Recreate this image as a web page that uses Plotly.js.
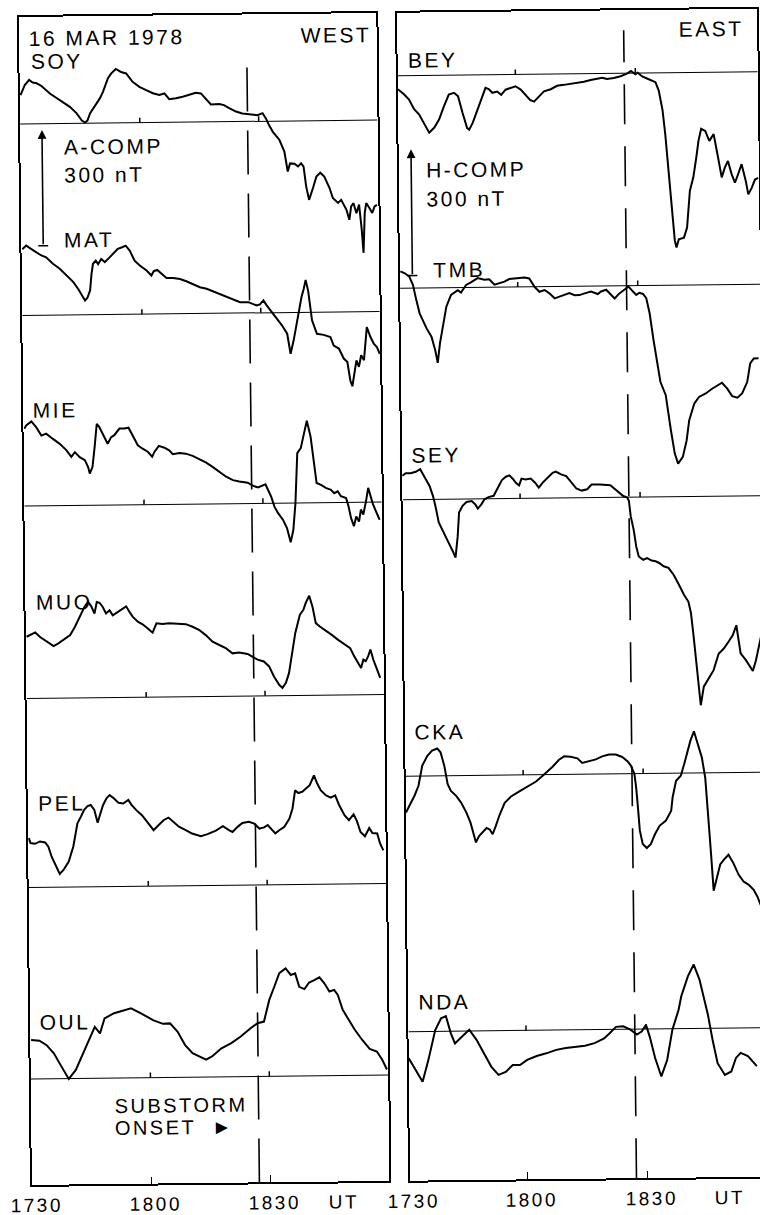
<!DOCTYPE html>
<html>
<head>
<meta charset="utf-8">
<script src="https://cdn.plot.ly/plotly-3.0.1.min.js"></script>
<style>
  html, body { margin: 0; padding: 0; background: #fff; overflow: hidden; width: 760px; height: 1215px; }
  /* the scanned sheet sits slightly askew on the page */
  #chart { width: 780px; height: 1215px; transform: rotate(-0.64deg); transform-origin: 380px 607.5px; }
  /* wide lettering; set on every svg text so Plotly's text measuring sees it too */
  text { letter-spacing: 2.5px; }
</style>
</head>
<body>
<div id="chart"></div>
<script>
// Magnetograms of 16 March 1978, 17:30-19:00 UT.
// Time in minutes after 17:30 UT, field deviation from each station's base level in nT.

// ---- WEST chain (A-component) ----
const SOY_T = [0,1.1,2.2,3.1,4.1,5.3,7.4,9.9,12.4,14.1,15.4,16.2,16.8,17.5,18.7,20,20.8,22.1,22.9,24.1,25.4,26.7,28.3,30,31.7,33.4,35,36.3,37.5,39.2,40.9,42.6,44.2,45.5,46.7,48,50.1,51.3,52.6,54.3,55.9,58.5,59.7,61,61.8,62.6,63.5,65.2,66.4,67.2,67.8,68.9,69.8,70.6,71.2,71.8,72.5,73.5,74.4,75.4,76.4,77.7,78.5,79.8,80.6,81.9,82.6,83.1,83.7,84.4,85.1,85.7,86.1,86.5,86.9,87.7,88.4,89,89.6];
const SOY_NT = [75,101,114,107,105,98,78,61,43,26,7,2,7,26,43,64,81,116,128,140,132,128,106,93,84,76,71,75,60,62,66,72,76,74,61,45,46,43,35,26,21,17,16,21,8,-10,-27,-49,-79,-131,-110,-111,-118,-110,-119,-170,-205,-175,-145,-135,-145,-175,-201,-214,-206,-232,-258,-223,-215,-241,-219,-284,-344,-241,-215,-228,-241,-224,-220];

const MAT_T = [0,1,2.3,3.5,4.8,6,7.7,9.4,11.1,12.8,14,14.9,15.7,16.3,17,17.4,17.8,18.5,19.1,19.9,20.8,22,23.3,24.1,25.2,26.1,27.1,28.3,29.6,31.3,32.5,33.1,34,35,36.3,38,39.7,41.3,43,44.7,46.4,48.1,49.8,51.4,53.1,54.8,56.9,59,59.8,60.7,61.5,62.8,64,65.3,66.6,67.4,68.2,69.1,69.7,70.3,70.9,71.4,72,72.9,74.1,75.8,77.5,78.3,79.6,80.8,81.7,82.4,82.9,83.4,84,84.6,85.2,85.9,86.7,87.6,88.4,89.2,89.9];
const MAT_NT = [172,181,172,163,155,150,133,120,102,85,67,50,37,44,63,106,132,140,131,144,136,148,161,170,174,178,165,139,126,113,100,111,114,104,93,93,90,84,77,68,64,57,50,42,35,28,28,19,22,32,19,1,-16,-33,-55,-107,-73,-21,13,39,61,84,56,-21,-56,-59,-65,-87,-95,-121,-130,-178,-193,-161,-126,-143,-113,-126,-40,-66,-83,-92,-110];

const MIE_T = [0,0.5,1.8,3,4.3,5.5,7.2,8.9,10.6,11.8,12.7,13.9,15.2,16,16.4,17.1,17.7,18.3,18.9,19.8,20.4,21,21.9,22.7,24,25.2,26.3,27.3,28.6,29.8,31.1,32.2,32.8,33.9,35.3,36.5,37.4,39.1,40.7,42.4,44.1,45.8,47.4,49.1,50.8,52.5,54.1,56.2,57.5,58.8,60,60.7,61.3,62.1,62.9,63.8,65,66,66.9,67.6,68.2,68.8,69.7,70.5,71.3,72.2,73,73.6,74.7,75.9,77.2,78,78.9,79.7,81,81.6,82.2,82.9,83.5,84.2,84.7,85.3,86,86.6,87.3,87.8,88.5,89.4];
const MIE_NT = [200,209,219,204,182,187,173,160,143,126,138,125,117,99,82,99,151,211,203,185,172,159,176,181,198,198,200,180,154,145,137,124,137,152,147,140,130,133,131,125,117,107,96,83,70,61,57,54,46,41,45,49,35,17,-9,-26,-43,-65,-102,-70,-1,129,142,176,213,172,111,51,46,38,33,24,29,16,11,-11,-41,-62,-37,-50,-19,-32,2,37,11,-7,-24,-46];

const MUO_T = [0,0.9,2.2,3.4,5.1,6.8,8,9.7,11,12.2,13.5,14.7,15.6,16.4,17.2,17.8,18.5,19.3,20.1,21,21.8,23.1,24.3,25.2,26,26.8,28.1,29.3,30.6,31.8,32.8,34.3,36,38.5,40.2,41.9,43.5,45.2,46.9,48.6,50.2,51.9,53.6,55.7,56.9,58.2,59.8,61.1,62.3,63.6,64.4,65.3,66.1,66.9,67.8,69,69.9,70.5,71.4,72.2,73,74,75.3,77,78.6,80.3,81.6,82.6,83.6,84.3,84.9,85.5,86.1,86.7,87.4,88.2,89.1];
const MUO_NT = [160,164,171,159,146,135,142,154,163,184,210,236,249,237,218,248,246,235,218,226,213,222,228,236,222,209,196,189,178,167,191,189,191,190,188,181,173,159,142,133,125,111,113,109,102,94,89,76,50,28,20,33,58,110,162,209,222,239,258,230,187,178,169,156,143,130,121,100,82,69,91,87,99,117,91,69,43];

const PEL_T = [0,0.4,1.5,2.8,4.1,4.9,5.7,6.8,7.7,8.7,10,11.2,12.3,13.2,14,14.9,15.7,16.6,17.4,18,18.8,19.7,20.5,21.6,22.7,23.9,25.2,26,27.3,28.6,29.8,31.5,32.8,34.1,35.3,36.6,37.9,39.6,41.2,43.4,45.1,47.2,49,50.5,51.4,52.7,53.9,55.6,56.9,58.2,59.4,60.3,61.1,62.2,63.2,64.5,65.8,66.6,67.3,68.1,69.1,70,71,72.1,72.9,73.8,75.1,76.3,77.4,78.4,79.7,80.8,82,82.8,83.7,84.8,85.9,86.7,87.9,88.6,89.4];
const PEL_NT = [128,115,113,119,116,105,79,53,34,45,66,105,165,182,199,209,212,199,166,186,211,229,237,228,217,215,224,211,196,184,167,145,158,171,177,166,153,144,135,128,133,142,153,143,138,151,161,164,159,146,149,155,146,133,141,150,171,197,244,237,240,248,257,282,261,243,230,224,230,204,178,165,180,163,134,123,144,131,130,104,86];

const OUL_T = [0,2.1,3.9,5.7,7.6,9.4,11.2,13.1,14.9,16.1,17.4,18.6,21,23.5,25.3,27.8,30.8,33.3,35.1,37,38.8,40.7,42.5,44.1,45.6,48,50.5,52.9,55.4,57.2,58.8,60.2,61.5,62.8,64.4,65.7,66.8,67.8,69.1,70.3,71.6,72.9,74.1,75.4,76.6,77.5,78.7,79.9,81.7,83.5,85.4,87.2,88.5,89.7];
const OUL_NT = [101,99,87,66,31,-1,22,65,108,133,116,155,168,176,180,167,149,139,140,118,84,62,53,45,53,74,87,104,125,138,142,198,232,267,279,262,266,231,225,242,248,255,240,218,222,209,170,149,118,92,68,61,40,14];

// ---- EAST chain (H-component) ----
const BEY_T = [0.6,2.1,3.3,4.6,5.8,7.1,8.3,9.6,10.8,12.1,13.3,14.6,15.6,16.7,17.8,18.3,19.2,20,20.8,21.7,22.5,23.3,24.2,25.4,26.4,27.5,28.8,30,31.3,32.5,33.6,34.6,35.8,37.1,38.8,40.4,42.1,43.8,45.4,47.1,48.8,50.4,51.7,52.9,54.6,56.3,57.9,58.9,60,60.6,61.7,62.9,64.2,65,65.8,66.7,67.3,67.8,68.3,68.9,69.4,69.8,70.4,71.7,72.5,73.3,74.2,75,75.6,76.3,77.3,78.3,79.4,80.3,81.3,82.1,82.9,83.8,84.6,85.4,86.3,87.3,87.9,88.8,89.6,90.4];
const BEY_NT = [-32,-44,-56,-80,-92,-116,-136,-124,-105,-73,-46,-42,-50,-90,-126,-130,-114,-94,-75,-51,-31,-34,-43,-40,-48,-36,-32,-28,-36,-48,-61,-65,-53,-41,-36,-28,-26,-24,-21,-19,-15,-12,-10,-13,-11,-7,-1,5,-3,1,-8,-13,-18,-22,-42,-89,-145,-209,-272,-344,-399,-415,-396,-392,-368,-281,-249,-202,-162,-134,-139,-163,-147,-195,-250,-227,-211,-243,-263,-243,-219,-259,-291,-275,-256,-252];

const TMB_T = [0.7,1.7,2.9,3.8,4.6,5.4,7.1,8.3,9.2,9.8,10.4,11.3,12.1,13.3,15,15.8,17.1,18.3,20,21.7,22.9,24.2,25.4,26.7,27.9,29.2,31.7,32.9,34.2,35.4,36.7,37.9,39.2,40.4,41.7,42.9,44.2,45.4,46.7,48.3,50,50.8,52.1,52.9,54.2,55.4,56.7,57.7,58.8,59.6,60.4,61.3,62.1,62.9,63.8,64.6,65.4,66.7,67.3,67.9,68.8,69.6,70.8,71.8,72.5,73.8,75,76.7,78.3,79.6,80.8,82.1,83.3,84.6,85.8,87.1,87.9,88.8,90];
const TMB_NT = [40,36,28,8,-28,-60,-96,-116,-148,-178,-132,-81,-45,-17,-6,-12,6,12,22,18,19,6,9,13,19,20,22,20,0,-12,-8,-16,-28,-24,-20,-16,-21,-21,-17,-13,-19,-13,-9,-18,-30,-18,-10,-2,-14,-22,-17,-20,-30,-66,-130,-186,-229,-261,-305,-345,-400,-424,-408,-369,-321,-282,-266,-258,-247,-239,-233,-247,-265,-269,-259,-232,-188,-176,-176];

const SEY_T = [0.6,1.5,2.7,4,5.1,6.1,7.4,8.2,8.8,9.6,10.7,12,13,13.7,14.3,14.7,15.6,16.6,17.9,18.8,19.4,20.3,21.1,22.1,23.4,24.5,25.5,26.5,27.4,28.2,29.1,29.8,30.4,31.4,32.7,33.8,34.7,35.7,36.9,38.2,39,40.3,41.6,42.9,44.1,45.4,46.8,47.9,50,52.6,53.4,54.7,55.8,56.8,57.2,57.6,58.3,58.9,59.5,60.6,61.6,62.7,63.7,64.6,65.7,66.9,68.2,69.5,70.7,71.8,72.4,73,73.7,74.6,75.4,76.7,77.9,79.2,80.5,81.7,82.8,83.7,84.7,86,86.8,87.7,88.5,89.4,90.2];
const SEY_NT = [57,63,63,66,72,56,32,9,-15,-55,-79,-103,-123,-139,-88,-32,-16,-7,-5,-13,-23,-13,-1,4,7,26,44,52,55,47,36,31,47,45,47,37,25,37,49,60,63,56,52,36,22,17,20,31,31,29,23,11,3,-1,-9,-45,-77,-117,-141,-149,-145,-151,-153,-157,-165,-169,-186,-210,-233,-250,-277,-333,-413,-496,-452,-433,-413,-374,-362,-346,-330,-307,-374,-390,-402,-416,-391,-355,-319];

const CKA_T = [0.6,1.5,2.8,3.8,4.8,6.1,7.3,8.6,9.4,10.3,11.1,11.9,13.2,14.4,15.7,16.7,17.3,18,18.8,19.8,20.7,21.5,22.2,23,24,25.3,26.9,29,31.1,33.2,34.8,36.1,37.3,39,40.3,41.9,43.6,44.8,46.5,48.2,49.8,51.5,53.2,54.8,56.1,56.9,57.8,58.2,58.6,59,59.7,60.7,61.7,62.8,64,65.5,66.9,67.3,68.2,69.4,70.3,71.1,71.9,72.8,73.8,74.7,75.5,76.1,76.7,77.3,78.2,79,80,81.1,82.3,83.6,84.8,86.1,87.3,88.2,89,90.3];
const CKA_NT = [-86,-70,-46,-23,25,48,60,65,56,24,-20,-36,-48,-64,-88,-112,-136,-159,-144,-133,-125,-129,-140,-121,-94,-66,-51,-39,-28,-16,-3,7,18,35,43,42,38,27,31,35,42,46,46,40,30,20,0,-32,-80,-135,-167,-177,-168,-144,-124,-113,-89,-57,-18,-6,22,53,77,99,69,37,-11,-91,-186,-280,-250,-218,-206,-195,-215,-243,-259,-267,-279,-295,-315,-335];

const NDA_T = [0.6,2.3,4,5.5,7.3,8.8,10,11.2,12.2,14,15.8,17.6,19.4,21.2,23,24.8,26.6,28.4,30.2,32.6,35,37.5,39.9,42.3,44.7,47.1,49.5,50.9,52.5,54.3,56.1,57.7,58.9,60,60.9,62.2,63.7,65.2,66.6,68.2,68.9,70.6,72.1,73.5,74.7,75.5,76.6,77.8,79.6,81.2,82.4,83.6,85.4,87.6];
const NDA_NT = [-63,-91,-119,-68,3,31,36,-5,-29,-13,3,-21,-53,-85,-105,-98,-82,-82,-70,-61,-55,-47,-43,-40,-38,-32,-21,-9,6,7,-1,-13,-6,10,-18,-69,-113,-74,-2,45,77,124,152,116,68,33,-27,-83,-111,-103,-71,-59,-67,-91];

// station names, drawn top to bottom in each panel
const WEST_NAMES = ['SOY','MAT','MIE','MUO','PEL','OUL'];
const EAST_NAMES = ['BEY','TMB','SEY','CKA','NDA'];
const TICK_T = [0, 30, 60];
const TICK_TEXT = ['1730','1800','1830'];
const ONSET_T = 57.2;   // substorm onset, 18:27 UT

// ---------------- layout geometry (pixels of the unrotated sheet) ----------------
const W = 780, H = 1215;
const TOP = 13, BOTTOM = 1181, LABEL_Y = 1201;
const W_LEFT = 25.5, W_RIGHT = 383, E_LEFT = 403.7, E_RIGHT = 763.7;
const W_BASE_PX = [120, 311.5, 502, 694.5, 883.5, 1075];
const E_BASE_PX = [76, 288.5, 500, 776.5, 1032];
const K_W = 300 / 115.7;   // nT per pixel, A-component panel
const K_E = 300 / 126.3;   // nT per pixel, H-component panel
const FONT = 'Liberation Sans, Arial, Helvetica, sans-serif';
const XR_W = [-0.2, 90];
const XR_E = [0.6, 90.6];

const px = x => x / W;
const py = y => 1 - y / H;
// minute -> sheet pixel, per panel
const tW = t => W_LEFT + (t - XR_W[0]) * (W_RIGHT - W_LEFT) / (XR_W[1] - XR_W[0]);
const tE = t => E_LEFT + (t - XR_E[0]) * (E_RIGHT - E_LEFT) / (XR_E[1] - XR_E[0]);

const westSeries = [[SOY_T, SOY_NT], [MAT_T, MAT_NT], [MIE_T, MIE_NT], [MUO_T, MUO_NT], [PEL_T, PEL_NT], [OUL_T, OUL_NT]];
const eastSeries = [[BEY_T, BEY_NT], [TMB_T, TMB_NT], [SEY_T, SEY_NT], [CKA_T, CKA_NT], [NDA_T, NDA_NT]];

const traces = [];
const shapes = [];
const annotations = [];

function panel(series, basePx, k, xa, ya, xr) {
  series.forEach(([t, v], i) => {
    const off = (BOTTOM - basePx[i]) * k;
    traces.push({
      type: 'scatter', mode: 'lines', x: t, y: v.map(d => d + off),
      xaxis: xa, yaxis: ya, hoverinfo: 'skip',
      line: { color: '#000', width: 2 }
    });
    // base level
    shapes.push({ type: 'line', xref: xa, yref: ya, x0: xr[0], x1: xr[1], y0: off, y1: off,
                  line: { color: '#000', width: 1 } });
    // 18:00 and 18:30 marks on the base level
    [30, 60].forEach(m => shapes.push({ type: 'line', xref: xa, yref: ya, x0: m, x1: m,
                  y0: off, y1: off + 5 * k, line: { color: '#000', width: 1.5 } }));
  });
}

panel(westSeries, W_BASE_PX, K_W, 'x', 'y', XR_W);
panel(eastSeries, E_BASE_PX, K_E, 'x2', 'y2', XR_E);

// substorm onset
shapes.push({ type: 'line', xref: 'x', yref: 'y', x0: ONSET_T, x1: ONSET_T, y0: 0, y1: (BOTTOM - 56) * K_W,
              line: { color: '#000', width: 1.6, dash: '44px,19px' } });
shapes.push({ type: 'line', xref: 'x2', yref: 'y2', x0: ONSET_T, x1: ONSET_T, y0: 0, y1: (BOTTOM - 33) * K_E,
              line: { color: '#000', width: 1.6, dash: '40px,22px' } });

// 300 nT scale arrows
function scaleArrow(xa, ya, t, bottomPx, k) {
  const y0 = (BOTTOM - bottomPx) * k;
  annotations.push({ xref: xa, yref: ya, axref: xa, ayref: ya, x: t, y: y0 + 300, ax: t, ay: y0,
                     text: '', showarrow: true, arrowhead: 2, arrowsize: 1.1, arrowwidth: 1.6, arrowcolor: '#000' });
  shapes.push({ type: 'line', xref: xa, yref: ya, x0: t - 1.25, x1: t + 1.25, y0: y0, y1: y0,
                line: { color: '#000', width: 1.6 } });
}
scaleArrow('x', 'y', 5.3, 242, K_W);
scaleArrow('x2', 'y2', 3.7, 276, K_E);

function label(text, x, y, anchor, size) {
  annotations.push({ xref: 'paper', yref: 'paper', x: px(x), y: py(y), xanchor: anchor || 'left',
                     yanchor: 'middle', text: text, showarrow: false, borderpad: 0,
                     font: { family: FONT, size: size || 21, color: '#000' } });
}

label('16 MAR 1978', 34, 34);
label('WEST', 379, 35, 'right');
label('A-COMP', 68, 144);
label('300 nT', 68, 172);
label('EAST', 751, 33, 'right');
label('H-COMP', 430, 170.5);
label('300 nT', 429.5, 199.5);
const W_LABEL_POS = [[35.5, 57], [67.4, 236.4], [34, 406], [35, 598.6], [34.5, 799.5], [34.2, 1018]];
const E_LABEL_POS = [[412.8, 60.3], [435.5, 270.3], [411.7, 455.3], [412, 732.6], [413, 1002]];
WEST_NAMES.forEach((n, i) => label(n, W_LABEL_POS[i][0], W_LABEL_POS[i][1]));
EAST_NAMES.forEach((n, i) => label(n, E_LABEL_POS[i][0], E_LABEL_POS[i][1]));
label('SUBSTORM', 108, 1102.5, 'left', 20);
label('ONSET  \u25BA', 108, 1124.5, 'left', 20);

// time labels under both panels
TICK_T.forEach((t, i) => {
  label(TICK_TEXT[i], tW(t) + 3.5, LABEL_Y, 'center', 19);
  label(TICK_TEXT[i], Math.max(tE(t), E_LEFT) + 3.5, LABEL_Y, 'center', 19);
});
label('UT', tW(78) + 2, LABEL_Y, 'center', 19);
label('UT', tE(80) + 2, LABEL_Y, 'center', 19);

function xAxis(domain, range) {
  return { domain: domain, range: range, showline: true, mirror: true, linecolor: '#000', linewidth: 2,
           ticks: 'inside', ticklen: 7, tickwidth: 1.5, tickcolor: '#000',
           tickvals: [30, 60], showticklabels: false,
           showgrid: false, zeroline: false, fixedrange: true };
}
function yAxis(k) {
  return { domain: [py(BOTTOM), py(TOP)], range: [0, (BOTTOM - TOP) * k], showline: true, mirror: true,
           linecolor: '#000', linewidth: 2, ticks: '', showticklabels: false,
           showgrid: false, zeroline: false, fixedrange: true };
}

const xa1 = xAxis([px(W_LEFT), px(W_RIGHT)], XR_W);
const xa2 = xAxis([px(E_LEFT), px(E_RIGHT)], XR_E);
xa1.anchor = 'y';
xa2.anchor = 'y2';
const ya1 = yAxis(K_W); ya1.anchor = 'x';
const ya2 = yAxis(K_E); ya2.anchor = 'x2';

const layout = {
  width: W, height: H, margin: { l: 0, r: 0, t: 0, b: 0 },
  paper_bgcolor: '#fff', plot_bgcolor: '#fff', showlegend: false,
  font: { family: FONT, color: '#000' },
  xaxis: xa1, yaxis: ya1, xaxis2: xa2, yaxis2: ya2,
  shapes: shapes, annotations: annotations
};

Plotly.newPlot('chart', traces, layout, { staticPlot: true, displayModeBar: false });
</script>
</body>
</html>
